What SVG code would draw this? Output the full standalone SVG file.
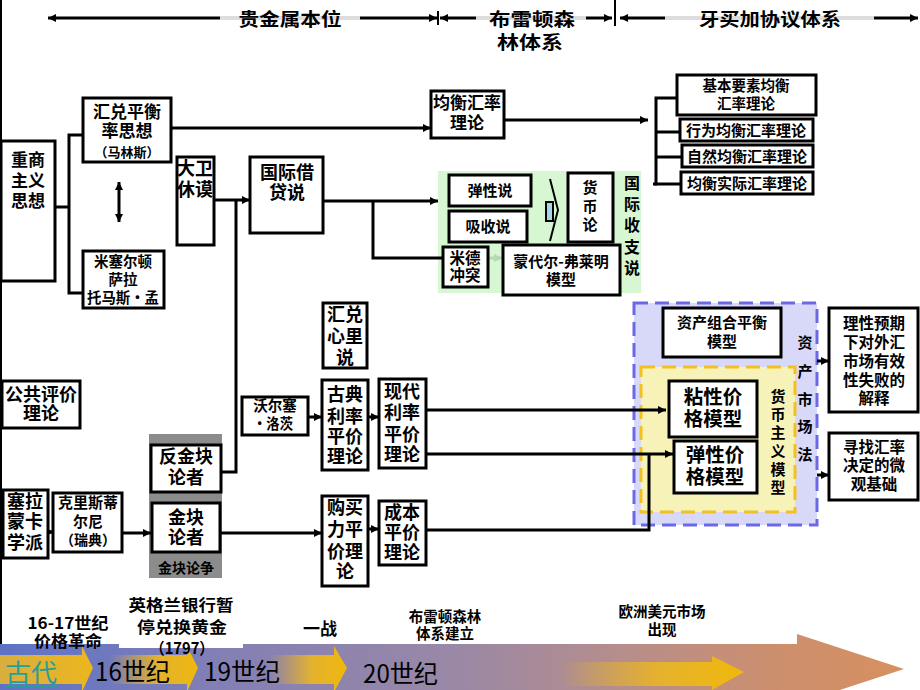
<svg xmlns="http://www.w3.org/2000/svg" width="920" height="690" viewBox="0 0 920 690">
<defs>
<style>
.b{fill:#fff;stroke:#000;stroke-width:3}
.l{fill:none;stroke:#000;stroke-width:3}
.t{font-family:"Noto Sans CJK SC","Liberation Sans",sans-serif;font-weight:bold;fill:#000;text-anchor:middle}
.s{text-anchor:start}
.n{font-weight:normal}
</style>
<marker id="a" viewBox="0 0 10 10" refX="10" refY="5" markerWidth="9" markerHeight="8" markerUnits="userSpaceOnUse" orient="auto-start-reverse"><path d="M0,0 L10,5 L0,10 z" fill="#000"/></marker>
<marker id="g" viewBox="0 0 10 10" refX="10" refY="5" markerWidth="9" markerHeight="8" markerUnits="userSpaceOnUse" orient="auto"><path d="M0,0 L10,5 L0,10 z" fill="#b4d8b4"/></marker>
<linearGradient id="big" x1="0" y1="0" x2="910" y2="0" gradientUnits="userSpaceOnUse">
<stop offset="0" stop-color="#5d72c6"/><stop offset="0.25" stop-color="#8480b4"/><stop offset="0.5" stop-color="#9a88a6"/><stop offset="0.68" stop-color="#b58e8c"/><stop offset="0.85" stop-color="#cc8f6e"/><stop offset="1" stop-color="#d8905e"/>
</linearGradient>
<linearGradient id="y1" x1="0" y1="0" x2="1" y2="0"><stop offset="0" stop-color="#d9ae40"/><stop offset="1" stop-color="#ebb61e"/></linearGradient>
<linearGradient id="yf" x1="0" y1="0" x2="1" y2="0"><stop offset="0" stop-color="#ebb61e" stop-opacity="0"/><stop offset="0.55" stop-color="#e8b428" stop-opacity="0.95"/><stop offset="1" stop-color="#efb80c"/></linearGradient>
</defs>

<line x1="1" y1="0" x2="1" y2="645" stroke="#000" stroke-width="2"/>

<g id="header">
<line x1="220" y1="18" x2="360" y2="18" stroke="#ddd" stroke-width="4"/>
<line x1="476" y1="18" x2="586" y2="18" stroke="#ddd" stroke-width="4"/>
<line x1="665" y1="18" x2="874" y2="18" stroke="#ddd" stroke-width="4"/>
<line class="l" x1="48" y1="18" x2="220" y2="18" marker-start="url(#a)"/>
<line class="l" x1="360" y1="18" x2="437" y2="18" marker-end="url(#a)"/>
<line x1="438" y1="11" x2="438" y2="25" stroke="#000" stroke-width="2"/>
<line class="l" x1="440" y1="18" x2="476" y2="18" marker-start="url(#a)"/>
<line class="l" x1="586" y1="18" x2="612" y2="18" marker-end="url(#a)"/>
<line x1="615" y1="0" x2="615" y2="26" stroke="#000" stroke-width="2"/>
<line class="l" x1="620" y1="18" x2="665" y2="18" marker-start="url(#a)"/>
<line class="l" x1="874" y1="18" x2="918" y2="18" marker-end="url(#a)"/>
<text class="t" x="290" y="26" font-size="18" textLength="103" lengthAdjust="spacingAndGlyphs">贵金属本位</text>
<text class="t" x="532" y="26" font-size="18" textLength="86" lengthAdjust="spacingAndGlyphs">布雷顿森</text>
<text class="t" x="530" y="49" font-size="18" textLength="66" lengthAdjust="spacingAndGlyphs">林体系</text>
<text class="t" x="770" y="26" font-size="18" textLength="142" lengthAdjust="spacingAndGlyphs">牙买加协议体系</text>
</g>

<rect x="438" y="171" width="203" height="122" fill="#d6f7d2"/>
<rect x="634" y="303" width="183" height="222" fill="#d8d8f8" stroke="#6a6ae6" stroke-width="3" stroke-dasharray="14,7"/>
<rect x="641" y="367" width="154" height="145" fill="#f7f3b8" stroke="#f2c020" stroke-width="3" stroke-dasharray="14,7"/>
<rect x="149" y="434" width="73" height="144" fill="#8c8c8c"/>

<g id="connectors">
<polyline class="l" points="83,135 69,135 69,293 83,293"/>
<line class="l" x1="55" y1="207" x2="69" y2="207"/>
<line class="l" x1="119" y1="182" x2="119" y2="222" stroke-width="2.5" marker-start="url(#a)" marker-end="url(#a)"/>
<line class="l" x1="171" y1="128" x2="431" y2="128" marker-end="url(#a)"/>
<line class="l" x1="504" y1="120" x2="648" y2="120" marker-end="url(#a)"/>
<polyline class="l" points="677,98 656,98 656,184 681,184"/>
<line class="l" x1="656" y1="132" x2="680" y2="132"/>
<line class="l" x1="656" y1="157" x2="682" y2="157"/>
<line class="l" x1="653" y1="184" x2="657" y2="184"/>
<line class="l" x1="214" y1="200" x2="250" y2="200" marker-end="url(#a)"/>
<polyline class="l" points="222,472 236,472 236,200"/>
<line class="l" x1="323" y1="201" x2="438" y2="201" marker-end="url(#a)"/>
<polyline class="l" points="373,201 373,258 443,258"/>
<line x1="489" y1="258" x2="502" y2="258" stroke="#b4d8b4" stroke-width="3" marker-end="url(#g)"/>
<line class="l" x1="308" y1="417" x2="322" y2="417" marker-end="url(#a)"/>
<line class="l" x1="368" y1="417" x2="379" y2="417" marker-end="url(#a)"/>
<line class="l" x1="426" y1="410" x2="666" y2="410" marker-end="url(#a)"/>
<line class="l" x1="426" y1="454" x2="673" y2="454" marker-end="url(#a)"/>
<polyline class="l" points="426,530 649,530 649,454"/>
<line class="l" x1="368" y1="529" x2="379" y2="529" marker-end="url(#a)"/>
<line class="l" x1="48" y1="532" x2="54" y2="532" marker-end="url(#a)"/>
<line class="l" x1="122" y1="533" x2="151" y2="533" marker-end="url(#a)"/>
<line class="l" x1="220" y1="533" x2="322" y2="533" marker-end="url(#a)"/>
<line class="l" x1="817" y1="361" x2="829" y2="361" marker-end="url(#a)"/>
<line class="l" x1="817" y1="475" x2="829" y2="475" marker-end="url(#a)"/>
<polyline points="550,179 558,210 550,241" fill="none" stroke="#000" stroke-width="2"/>
<rect x="546" y="202" width="7" height="19" fill="#a9d3e6" stroke="#000" stroke-width="2"/>
</g>

<g id="n-zhongshang"><rect class="b" x="1" y="141" width="54" height="140"/>
<text class="t" x="28" y="166" font-size="17">重商</text><text class="t" x="28" y="187" font-size="17">主义</text><text class="t" x="28" y="207" font-size="17">思想</text></g>

<g id="n-huidui"><rect class="b" x="83" y="98" width="88" height="64"/>
<text class="t" x="127" y="118" font-size="17">汇兑平衡</text><text class="t" x="127" y="137" font-size="17">率思想</text><text class="t" x="127" y="157" font-size="13">（马林斯）</text></g>

<g id="n-misaier"><rect class="b" x="83" y="251" width="81" height="57"/>
<text class="t" x="123" y="267" font-size="14.5">米塞尔顿</text><text class="t" x="123" y="285" font-size="14.5">萨拉</text><text class="t" x="123" y="303" font-size="14.5" textLength="72" lengthAdjust="spacingAndGlyphs">托马斯·孟</text></g>

<g id="n-hume"><rect class="b" x="177" y="157" width="37" height="88"/>
<text class="t s" x="177" y="175" font-size="18">大卫</text><text class="t s" x="177" y="196" font-size="18">休谟</text></g>

<g id="n-guojijiedai"><rect class="b" x="250" y="157" width="73" height="76"/>
<text class="t" x="287" y="179" font-size="18">国际借</text><text class="t" x="287" y="199" font-size="18">贷说</text></g>

<g id="n-junheng"><rect class="b" x="431" y="91" width="73" height="47"/>
<text class="t" x="467" y="109" font-size="17">均衡汇率</text><text class="t" x="467" y="129" font-size="17">理论</text></g>

<g id="n-jiben"><rect class="b" x="677" y="75" width="139" height="40"/>
<text class="t" x="746" y="91" font-size="14.5">基本要素均衡</text><text class="t" x="746" y="109" font-size="14.5">汇率理论</text></g>
<g id="n-xingwei"><rect class="b" x="680" y="119" width="133" height="22"/>
<text class="t" x="746" y="136" font-size="15">行为均衡汇率理论</text></g>
<g id="n-ziran"><rect class="b" x="682" y="145" width="131" height="22"/>
<text class="t" x="747" y="162" font-size="15">自然均衡汇率理论</text></g>
<g id="n-shiji"><rect class="b" x="681" y="172" width="132" height="22"/>
<text class="t" x="747" y="189" font-size="15">均衡实际汇率理论</text></g>

<g id="n-tanxing"><rect class="b" x="449" y="175" width="82" height="31"/>
<text class="t" x="490" y="196" font-size="15">弹性说</text></g>
<g id="n-xishou"><rect class="b" x="449" y="211" width="78" height="31"/>
<text class="t" x="488" y="232" font-size="15">吸收说</text></g>
<g id="n-huobilun"><rect class="b" x="568" y="173" width="45" height="69"/>
<text class="t" x="590" y="193" font-size="15">货</text><text class="t" x="590" y="212" font-size="15">币</text><text class="t" x="590" y="230" font-size="15">论</text></g>
<g id="n-mide"><rect class="b" x="443" y="247" width="45" height="40"/>
<text class="t" x="465" y="264" font-size="15.5">米德</text><text class="t" x="465" y="281" font-size="15.5">冲突</text></g>
<g id="n-mundell"><rect class="b" x="503" y="245" width="117" height="50"/>
<text class="t" x="561" y="267" font-size="15">蒙代尔-弗莱明</text><text class="t" x="561" y="285" font-size="15">模型</text></g>
<g id="n-guojishouzhi">
<text class="t" x="632" y="189" font-size="16">国</text><text class="t" x="632" y="210" font-size="16">际</text><text class="t" x="632" y="231" font-size="16">收</text><text class="t" x="632" y="253" font-size="16">支</text><text class="t" x="632" y="274" font-size="16">说</text></g>

<g id="n-xinli"><rect class="b" x="323" y="303" width="44" height="65"/>
<text class="t" x="345" y="321" font-size="18">汇兑</text><text class="t" x="345" y="343" font-size="18">心里</text><text class="t" x="345" y="364" font-size="18">说</text></g>

<g id="n-woerse"><rect class="b" x="242" y="397" width="66" height="38"/>
<text class="t" x="275" y="411" font-size="14.5">沃尔塞</text><text class="t" x="273" y="429" font-size="14.5" textLength="40" lengthAdjust="spacingAndGlyphs">·洛茨</text></g>

<g id="n-gudian"><rect class="b" x="322" y="380" width="46" height="90"/>
<text class="t" x="345" y="401" font-size="18">古典</text><text class="t" x="345" y="423" font-size="18">利率</text><text class="t" x="345" y="443" font-size="18">平价</text><text class="t" x="345" y="463" font-size="18">理论</text></g>

<g id="n-xiandai"><rect class="b" x="379" y="379" width="47" height="89"/>
<text class="t" x="402" y="398" font-size="18">现代</text><text class="t" x="402" y="419" font-size="18">利率</text><text class="t" x="402" y="441" font-size="18">平价</text><text class="t" x="402" y="461" font-size="18">理论</text></g>

<g id="n-goumai"><rect class="b" x="322" y="496" width="46" height="90"/>
<text class="t" x="345" y="514" font-size="18">购买</text><text class="t" x="345" y="536" font-size="18">力平</text><text class="t" x="345" y="558" font-size="18">价理</text><text class="t" x="345" y="578" font-size="18">论</text></g>

<g id="n-chengben"><rect class="b" x="379" y="501" width="47" height="64"/>
<text class="t" x="402" y="519" font-size="18">成本</text><text class="t" x="402" y="539" font-size="18">平价</text><text class="t" x="402" y="559" font-size="18">理论</text></g>

<g id="n-zichanzuhe"><rect class="b" x="663" y="308" width="118" height="49"/>
<text class="t" x="722" y="328" font-size="15">资产组合平衡</text><text class="t" x="722" y="347" font-size="15">模型</text></g>
<g id="n-nianxing"><rect class="b" x="669" y="381" width="88" height="56"/>
<text class="t" x="713" y="404" font-size="19.5">粘性价</text><text class="t" x="713" y="426" font-size="19.5">格模型</text></g>
<g id="n-tanxingjiage"><rect class="b" x="674" y="441" width="83" height="52"/>
<text class="t" x="715" y="462" font-size="19.5">弹性价</text><text class="t" x="715" y="484" font-size="19.5">格模型</text></g>
<g id="n-huobizhuyi">
<text class="t" x="778" y="402" font-size="15">货</text><text class="t" x="778" y="420" font-size="15">币</text><text class="t" x="778" y="438" font-size="15">主</text><text class="t" x="778" y="457" font-size="15">义</text><text class="t" x="778" y="475" font-size="15">模</text><text class="t" x="778" y="493" font-size="15">型</text></g>
<g id="n-zichanshichang">
<text class="t" x="805" y="348" font-size="15">资</text><text class="t" x="805" y="377" font-size="15">产</text><text class="t" x="805" y="405" font-size="15">市</text><text class="t" x="805" y="432" font-size="15">场</text><text class="t" x="805" y="460" font-size="15">法</text></g>

<g id="n-lixing"><rect class="b" x="829" y="308" width="89" height="104"/>
<text class="t" x="874" y="329" font-size="15.5">理性预期</text><text class="t" x="874" y="348" font-size="15.5">下对外汇</text><text class="t" x="874" y="367" font-size="15.5">市场有效</text><text class="t" x="874" y="386" font-size="15.5">性失败的</text><text class="t" x="874" y="404" font-size="15.5">解释</text></g>
<g id="n-xunzhao"><rect class="b" x="829" y="433" width="89" height="67"/>
<text class="t" x="874" y="453" font-size="15.5">寻找汇率</text><text class="t" x="874" y="471" font-size="15.5">决定的微</text><text class="t" x="874" y="490" font-size="15.5">观基础</text></g>

<g id="n-gonggong"><rect class="b" x="2" y="381" width="78" height="47"/>
<text class="t" x="41" y="401" font-size="18">公共评价</text><text class="t" x="41" y="420" font-size="18">理论</text></g>

<g id="n-saila"><rect class="b" x="3" y="490" width="45" height="68"/>
<text class="t" x="25" y="508" font-size="18">塞拉</text><text class="t" x="25" y="528" font-size="18">蒙卡</text><text class="t" x="25" y="549" font-size="18">学派</text></g>
<g id="n-kelisi"><rect class="b" x="53" y="493" width="69" height="59"/>
<text class="t" x="88" y="508" font-size="15">克里斯蒂</text><text class="t" x="88" y="527" font-size="15">尔尼</text><text class="t" x="88" y="545" font-size="14">（瑞典）</text></g>

<g id="n-fanjinkuai"><rect class="b" x="151" y="445" width="70" height="47"/>
<text class="t" x="186" y="463" font-size="18">反金块</text><text class="t" x="186" y="484" font-size="18">论者</text></g>
<g id="n-jinkuai"><rect class="b" x="152" y="503" width="68" height="49"/>
<text class="t" x="186" y="524" font-size="18">金块</text><text class="t" x="186" y="544" font-size="18">论者</text></g>
<text class="t" x="186" y="573" font-size="14">金块论争</text>

<g id="timeline">
<path d="M0,644 L797,644 L797,634 L904,669 L797,704 L797,690 L0,690 z" fill="url(#big)"/>
<rect x="119" y="600" width="124" height="48" fill="#fff"/>
<path d="M0,655 L82,655 L82,646 L93,668 L82,692 L82,684 L0,684 z" fill="url(#y1)"/>
<path d="M110,655 L187,655 L187,646 L198,668 L187,692 L187,684 L110,684 z" fill="url(#yf)"/>
<path d="M270,655 L334,655 L334,646 L347,668 L334,692 L334,684 L270,684 z" fill="url(#yf)"/>
<path d="M560,662 L712,662 L712,656 L744,672 L712,690 L712,686 L560,686 z" fill="url(#yf)"/>
<text class="t s n" x="5" y="682" font-size="25" style="fill:#2a9e96" textLength="52" lengthAdjust="spacingAndGlyphs">古代</text>
<line x1="5" y1="686" x2="57" y2="686" stroke="#2a9e96" stroke-width="2"/>
<text class="t s n" x="95" y="681" font-size="25" textLength="75" lengthAdjust="spacingAndGlyphs">16世纪</text>
<text class="t s n" x="204" y="681" font-size="25" textLength="76" lengthAdjust="spacingAndGlyphs">19世纪</text>
<text class="t s n" x="363" y="683" font-size="25" textLength="75" lengthAdjust="spacingAndGlyphs">20世纪</text>
<text class="t" x="68" y="629" font-size="16" textLength="81" lengthAdjust="spacingAndGlyphs">16-17世纪</text>
<text class="t" x="68" y="647" font-size="16" textLength="68" lengthAdjust="spacingAndGlyphs">价格革命</text>
<text class="t" x="181" y="611" font-size="16" textLength="105" lengthAdjust="spacingAndGlyphs">英格兰银行暂</text>
<text class="t" x="182" y="633" font-size="16" textLength="90" lengthAdjust="spacingAndGlyphs">停兑换黄金</text>
<text class="t" x="182" y="654" font-size="16" textLength="64" lengthAdjust="spacingAndGlyphs">（1797）</text>
<text class="t" x="320" y="635" font-size="17">一战</text>
<text class="t" x="445" y="622" font-size="14.5">布雷顿森林</text>
<text class="t" x="445" y="639" font-size="14.5">体系建立</text>
<text class="t" x="662" y="617" font-size="14.5">欧洲美元市场</text>
<text class="t" x="662" y="635" font-size="14.5">出现</text>
</g>
</svg>
